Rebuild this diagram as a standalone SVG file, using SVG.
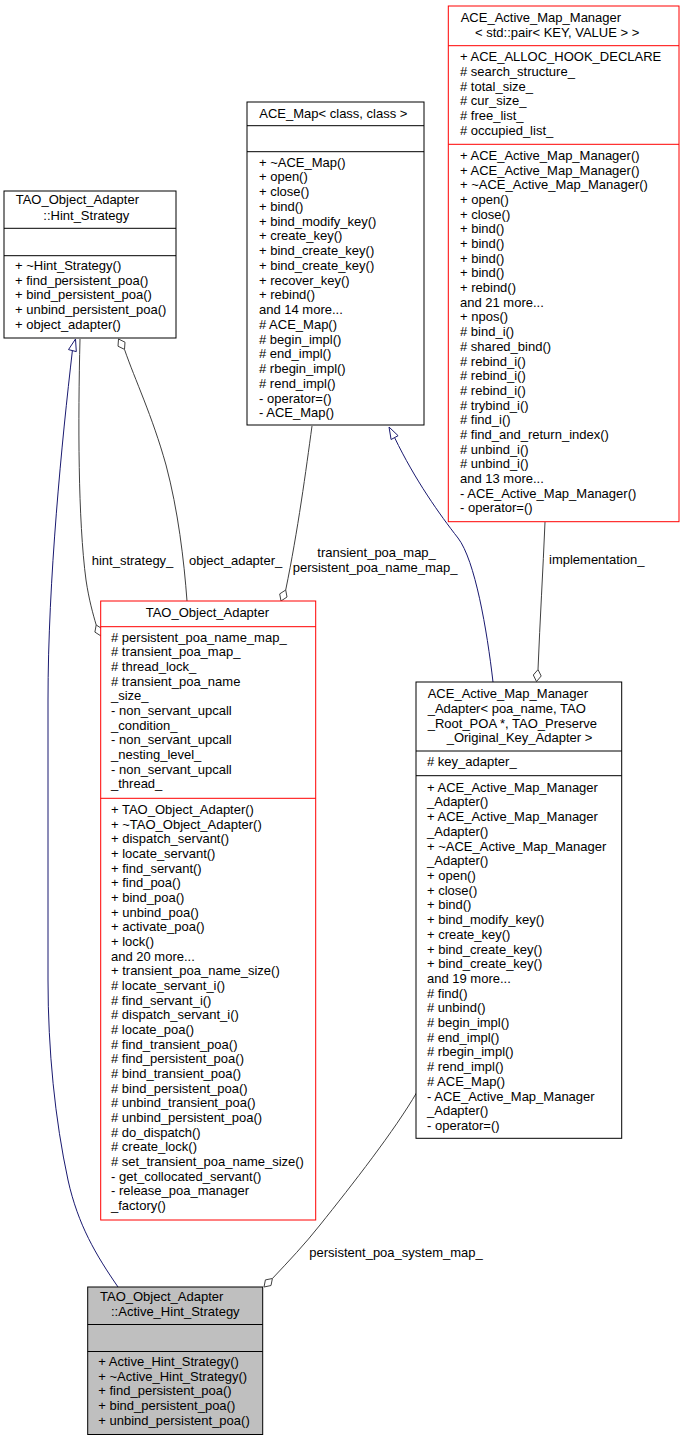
<svg xmlns="http://www.w3.org/2000/svg" width="684" height="1443" viewBox="0 0 684 1443">
<style>
text{font-family:"Liberation Sans",Arial,Helvetica,sans-serif;font-size:13px;fill:#000}
.bk{fill:#fff;stroke:#000;stroke-width:1}
.rd{fill:#fff;stroke:#ff0000;stroke-width:1}
.gy{fill:#bfbfbf;stroke:#000;stroke-width:1}
.lbk{stroke:#000;stroke-width:1}
.lrd{stroke:#ff0000;stroke-width:1}
.inh{fill:none;stroke:#191970;stroke-width:1}
.agg{fill:none;stroke:#404040;stroke-width:1}
.tri{fill:#fff;stroke:#191970;stroke-width:1}
.dia{fill:#fff;stroke:#404040;stroke-width:1}
</style>
<rect width="684" height="1443" fill="#fff"/>
<g id="connectors">
<path class="inh" d="M118,1287 C96,1255 78,1225 68,1180 C55,1120 48,1050 48,980 L48,700 C48,580 62,440 72.4,350.6"/>
<polygon class="tri" points="75.5,339 76.3,351.6 68.5,349.6"/>
<path class="agg" d="M80,339 C78,420 78,520 86,580 C89,600 93,614 96.2,625"/>
<polygon class="dia" points="101,636 102.3,628.9 96.2,625 94.9,632.1"/>
<text x="91.7" y="565">hint_strategy_</text>
<path class="agg" d="M187,601 C184,560 178,510 166,465 C152,415 135,380 124.5,349.4"/>
<polygon class="dia" points="118.5,339 125,342.2 124.5,349.4 118,346.2"/>
<text x="189" y="565">object_adapter_</text>
<path class="agg" d="M312,426 C306,470 298,530 285.7,590"/>
<polygon class="dia" points="281,601 279.7,593.9 285.7,590 287,597"/>
<text x="317.3" y="556.5">transient_poa_map_</text>
<text x="292.7" y="571.5">persistent_poa_name_map_</text>
<path class="inh" d="M493,682 C487,630 475,560 458,538 C440,515 415,480 394.6,437.6"/>
<polygon class="tri" points="389,427 398.1,435.7 391.1,439.5"/>
<path class="agg" d="M545,522 C543,570 540,620 538,669.6"/>
<polygon class="dia" points="536.5,681.5 533.3,675 538,669.6 541.2,676"/>
<text x="549" y="564">implementation_</text>
<path class="agg" d="M417,1092 C395,1130 352,1185 320,1225 C305,1244 288,1262 272.4,1278.5"/>
<polygon class="dia" points="264,1287 271,1285.5 272.4,1278.5 265.4,1279.9"/>
<text x="309.3" y="1257">persistent_poa_system_map_</text>
</g>
<g id="hint_strategy">
<rect class="bk" x="4" y="191" width="172" height="147"/>
<line class="lbk" x1="4" y1="228.3" x2="176" y2="228.3"/>
<line class="lbk" x1="4" y1="255.7" x2="176" y2="255.7"/>
<text x="15.7" y="204.3">TAO_Object_Adapter</text>
<text x="43.3" y="220">::Hint_Strategy</text>
<text x="15" y="270">+ ~Hint_Strategy()</text>
<text x="15" y="284.7">+ find_persistent_poa()</text>
<text x="15" y="299.4">+ bind_persistent_poa()</text>
<text x="15" y="314.1">+ unbind_persistent_poa()</text>
<text x="15" y="328.8">+ object_adapter()</text>
</g>
<g id="ace_map">
<rect class="bk" x="247" y="102" width="177" height="323"/>
<line class="lbk" x1="247" y1="125.7" x2="424" y2="125.7"/>
<line class="lbk" x1="247" y1="151.7" x2="424" y2="151.7"/>
<text x="259.3" y="118">ACE_Map&lt; class, class &gt;</text>
<text x="259" y="166.7">+ ~ACE_Map()</text>
<text x="259" y="181.45">+ open()</text>
<text x="259" y="196.2">+ close()</text>
<text x="259" y="210.95">+ bind()</text>
<text x="259" y="225.7">+ bind_modify_key()</text>
<text x="259" y="240.45">+ create_key()</text>
<text x="259" y="255.2">+ bind_create_key()</text>
<text x="259" y="269.95">+ bind_create_key()</text>
<text x="259" y="284.7">+ recover_key()</text>
<text x="259" y="299.45">+ rebind()</text>
<text x="259" y="314.2">and 14 more...</text>
<text x="259" y="328.95"># ACE_Map()</text>
<text x="259" y="343.7"># begin_impl()</text>
<text x="259" y="358.45"># end_impl()</text>
<text x="259" y="373.2"># rbegin_impl()</text>
<text x="259" y="387.95"># rend_impl()</text>
<text x="259" y="402.7">- operator=()</text>
<text x="259" y="417.45">- ACE_Map()</text>
</g>
<g id="active_map_manager">
<rect class="rd" x="448.3" y="6" width="230.7" height="515.7"/>
<line class="lrd" x1="448.3" y1="45.7" x2="679" y2="45.7"/>
<line class="lrd" x1="448.3" y1="144.3" x2="679" y2="144.3"/>
<text x="460.7" y="21.7">ACE_Active_Map_Manager</text>
<text x="475" y="36.7">&lt; std::pair&lt; KEY, VALUE &gt; &gt;</text>
<text x="460" y="61.2">+ ACE_ALLOC_HOOK_DECLARE</text>
<text x="460" y="75.9"># search_structure_</text>
<text x="460" y="90.6"># total_size_</text>
<text x="460" y="105.3"># cur_size_</text>
<text x="460" y="120"># free_list_</text>
<text x="460" y="134.7"># occupied_list_</text>
<text x="460" y="160">+ ACE_Active_Map_Manager()</text>
<text x="460" y="174.68">+ ACE_Active_Map_Manager()</text>
<text x="460" y="189.36">+ ~ACE_Active_Map_Manager()</text>
<text x="460" y="204.04">+ open()</text>
<text x="460" y="218.72">+ close()</text>
<text x="460" y="233.4">+ bind()</text>
<text x="460" y="248.08">+ bind()</text>
<text x="460" y="262.76">+ bind()</text>
<text x="460" y="277.44">+ bind()</text>
<text x="460" y="292.12">+ rebind()</text>
<text x="460" y="306.8">and 21 more...</text>
<text x="460" y="321.48">+ npos()</text>
<text x="460" y="336.16"># bind_i()</text>
<text x="460" y="350.84"># shared_bind()</text>
<text x="460" y="365.52"># rebind_i()</text>
<text x="460" y="380.2"># rebind_i()</text>
<text x="460" y="394.88"># rebind_i()</text>
<text x="460" y="409.56"># trybind_i()</text>
<text x="460" y="424.24"># find_i()</text>
<text x="460" y="438.92"># find_and_return_index()</text>
<text x="460" y="453.6"># unbind_i()</text>
<text x="460" y="468.28"># unbind_i()</text>
<text x="460" y="482.96">and 13 more...</text>
<text x="460" y="497.64">- ACE_Active_Map_Manager()</text>
<text x="460" y="512.32">- operator=()</text>
</g>
<g id="tao_object_adapter">
<rect class="rd" x="100.7" y="601" width="215" height="619"/>
<line class="lrd" x1="100.7" y1="626.7" x2="315.7" y2="626.7"/>
<line class="lrd" x1="100.7" y1="798.3" x2="315.7" y2="798.3"/>
<text x="145.7" y="616.7">TAO_Object_Adapter</text>
<text x="111" y="641.7"># persistent_poa_name_map_</text>
<text x="111" y="656.36"># transient_poa_map_</text>
<text x="111" y="671.02"># thread_lock_</text>
<text x="111" y="685.68"># transient_poa_name</text>
<text x="111" y="700.34">_size_</text>
<text x="111" y="715">- non_servant_upcall</text>
<text x="111" y="729.66">_condition_</text>
<text x="111" y="744.32">- non_servant_upcall</text>
<text x="111" y="758.98">_nesting_level_</text>
<text x="111" y="773.64">- non_servant_upcall</text>
<text x="111" y="788.3">_thread_</text>
<text x="111" y="814">+ TAO_Object_Adapter()</text>
<text x="111" y="828.67">+ ~TAO_Object_Adapter()</text>
<text x="111" y="843.33">+ dispatch_servant()</text>
<text x="111" y="858">+ locate_servant()</text>
<text x="111" y="872.67">+ find_servant()</text>
<text x="111" y="887.33">+ find_poa()</text>
<text x="111" y="902">+ bind_poa()</text>
<text x="111" y="916.67">+ unbind_poa()</text>
<text x="111" y="931.33">+ activate_poa()</text>
<text x="111" y="946">+ lock()</text>
<text x="111" y="960.67">and 20 more...</text>
<text x="111" y="975.33">+ transient_poa_name_size()</text>
<text x="111" y="990"># locate_servant_i()</text>
<text x="111" y="1004.67"># find_servant_i()</text>
<text x="111" y="1019.33"># dispatch_servant_i()</text>
<text x="111" y="1034"># locate_poa()</text>
<text x="111" y="1048.67"># find_transient_poa()</text>
<text x="111" y="1063.33"># find_persistent_poa()</text>
<text x="111" y="1078"># bind_transient_poa()</text>
<text x="111" y="1092.67"># bind_persistent_poa()</text>
<text x="111" y="1107.33"># unbind_transient_poa()</text>
<text x="111" y="1122"># unbind_persistent_poa()</text>
<text x="111" y="1136.67"># do_dispatch()</text>
<text x="111" y="1151.33"># create_lock()</text>
<text x="111" y="1166"># set_transient_poa_name_size()</text>
<text x="111" y="1180.67">- get_collocated_servant()</text>
<text x="111" y="1195.33">- release_poa_manager</text>
<text x="111" y="1210">_factory()</text>
</g>
<g id="map_manager_adapter">
<rect class="bk" x="416" y="682" width="205.7" height="456.3"/>
<line class="lbk" x1="416" y1="751" x2="621.7" y2="751"/>
<line class="lbk" x1="416" y1="775.7" x2="621.7" y2="775.7"/>
<text x="427.7" y="698">ACE_Active_Map_Manager</text>
<text x="427.7" y="712.8">_Adapter&lt; poa_name, TAO</text>
<text x="427.7" y="727.6">_Root_POA *, TAO_Preserve</text>
<text x="446.7" y="742.4">_Original_Key_Adapter &gt;</text>
<text x="427" y="766"># key_adapter_</text>
<text x="427" y="791.7">+ ACE_Active_Map_Manager</text>
<text x="427" y="806.41">_Adapter()</text>
<text x="427" y="821.12">+ ACE_Active_Map_Manager</text>
<text x="427" y="835.83">_Adapter()</text>
<text x="427" y="850.54">+ ~ACE_Active_Map_Manager</text>
<text x="427" y="865.25">_Adapter()</text>
<text x="427" y="879.96">+ open()</text>
<text x="427" y="894.67">+ close()</text>
<text x="427" y="909.38">+ bind()</text>
<text x="427" y="924.09">+ bind_modify_key()</text>
<text x="427" y="938.8">+ create_key()</text>
<text x="427" y="953.51">+ bind_create_key()</text>
<text x="427" y="968.22">+ bind_create_key()</text>
<text x="427" y="982.93">and 19 more...</text>
<text x="427" y="997.64"># find()</text>
<text x="427" y="1012.35"># unbind()</text>
<text x="427" y="1027.06"># begin_impl()</text>
<text x="427" y="1041.77"># end_impl()</text>
<text x="427" y="1056.48"># rbegin_impl()</text>
<text x="427" y="1071.19"># rend_impl()</text>
<text x="427" y="1085.9"># ACE_Map()</text>
<text x="427" y="1100.61">- ACE_Active_Map_Manager</text>
<text x="427" y="1115.32">_Adapter()</text>
<text x="427" y="1130.03">- operator=()</text>
</g>
<g id="active_hint_strategy">
<rect class="gy" x="87.7" y="1287" width="175" height="147.5"/>
<line class="lbk" x1="87.7" y1="1324.5" x2="262.7" y2="1324.5"/>
<line class="lbk" x1="87.7" y1="1351.5" x2="262.7" y2="1351.5"/>
<text x="100" y="1300.5">TAO_Object_Adapter</text>
<text x="111" y="1316">::Active_Hint_Strategy</text>
<text x="98.3" y="1366">+ Active_Hint_Strategy()</text>
<text x="98.3" y="1380.7">+ ~Active_Hint_Strategy()</text>
<text x="98.3" y="1395.4">+ find_persistent_poa()</text>
<text x="98.3" y="1410.1">+ bind_persistent_poa()</text>
<text x="98.3" y="1424.8">+ unbind_persistent_poa()</text>
</g>
</svg>
